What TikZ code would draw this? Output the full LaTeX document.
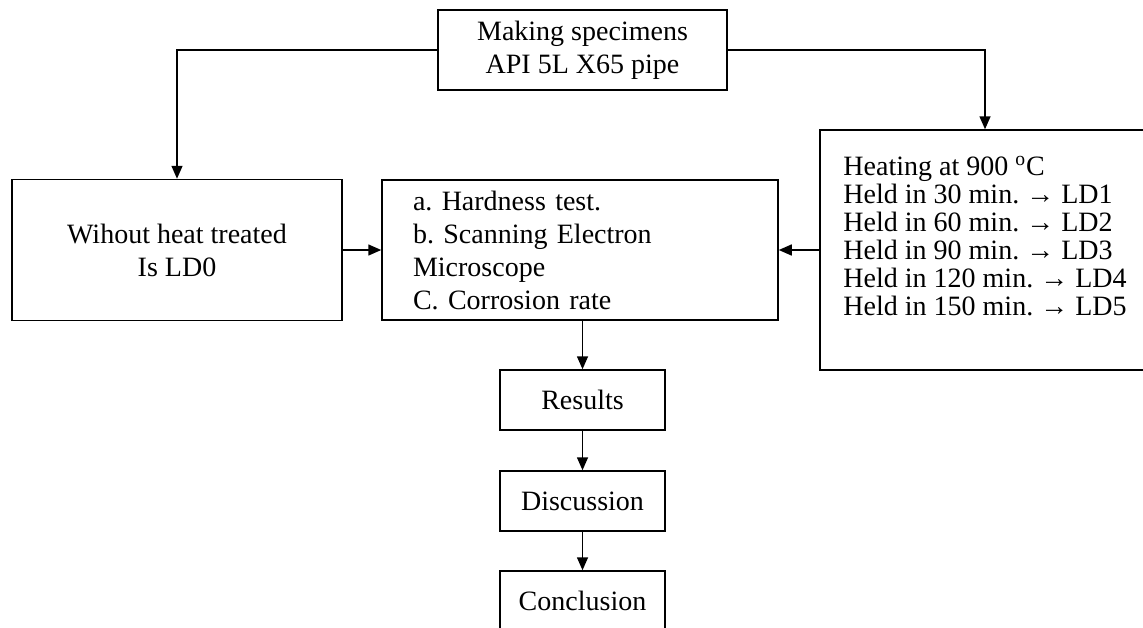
\documentclass[tikz,border=0pt]{standalone}
\usepackage{fontspec}
\setmainfont{Liberation Serif}
\usetikzlibrary{arrows.meta}

\begin{document}
\begin{tikzpicture}[
        x=0.5pt,
        y=-0.5pt,
        box/.style={draw, line width=0.75pt, inner sep=0pt, font=\fontsize{14pt}{16.5pt}\selectfont\frenchspacing},
        stepbox/.style={box, minimum width=82.5pt, minimum height=30pt},
        arr/.style={line width=0.75pt, -{Triangle[length=6.5pt,width=5.5pt]}}
    ]
        \useasboundingbox (0,0) rectangle (1143,627);

        \node[box, minimum width=144.5pt, minimum height=40pt, align=center] (spec) at (582.5,50) {Making specimens\\API 5L X65 pipe};
        \node[box, minimum width=165pt, minimum height=70.5pt, align=center] (untreated) at (177,250) {Wihout heat treated\\Is LD0};
        \node[box, minimum width=198pt, minimum height=70pt, inner xsep=15.5pt, text width=167pt, align=left] (tests) at (580,250)
            {a. Hardness test.\\b. Scanning Electron\\Microscope\\C. Corrosion rate};
        \node[box, minimum width=165pt, minimum height=120pt, align=left, font=\fontsize{14pt}{14pt}\selectfont\frenchspacing] (heat) at (985,250)
            {Heating at 900 \textsuperscript{o}C\\Held in 30 min. → LD1\\Held in 60 min. → LD2\\Held in 90 min. → LD3\\Held in 120 min. → LD4\\Held in 150 min. → LD5\\};

        \foreach \y/\lab/\name in {400/Results/results,501/Discussion/discussion,601/Conclusion/conclusion}{
            \node[stepbox] (\name) at (582.5,\y) {\lab};
        }

        \draw[arr] (spec.west) -| (untreated.north);
        \draw[arr] (spec.east) -| (heat.north);
        \draw[arr] (untreated.east) -- (tests.west);
        \draw[arr] (heat.west) -- (tests.east);
        \draw[arr] (tests.south -| results.north) -- (results.north);
        \draw[arr] (results) -- (discussion);
        \draw[arr] (discussion) -- (conclusion);
    \end{tikzpicture}
\end{document}
